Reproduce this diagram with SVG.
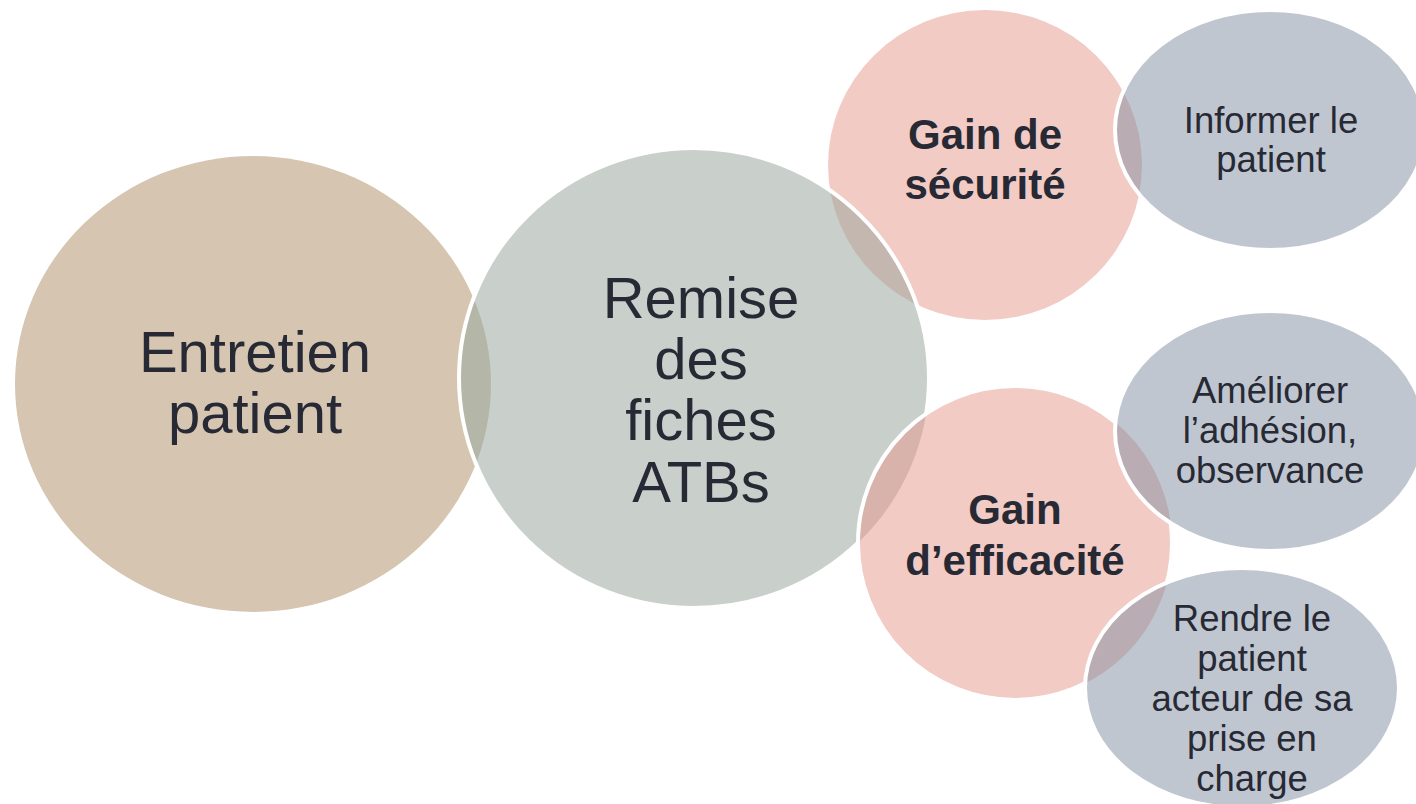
<svg xmlns="http://www.w3.org/2000/svg" width="1416" height="804" viewBox="0 0 1416 804">
<style>
.t{font-family:"Liberation Sans",Arial,sans-serif;fill:#272A34;text-anchor:middle}
.big{font-size:58px}
.bold{font-size:42px;font-weight:bold}
.small{font-size:36.5px}
.edge{fill:none;stroke:#FFFFFF;stroke-width:4}
.tan{fill:#D6C6B1}
.sage{fill:#C9D0CC}
.pink{fill:#F2CBC5}
.blue{fill:#C0C6D0}
</style>
<defs>
<clipPath id="clipE"><ellipse cx="253" cy="384" rx="238" ry="228"/></clipPath>
<clipPath id="clipGS"><ellipse cx="985" cy="165" rx="157" ry="155"/></clipPath>
<clipPath id="clipR"><ellipse cx="694" cy="378" rx="235" ry="230"/></clipPath>
<clipPath id="clipGE"><ellipse cx="1015" cy="543" rx="157" ry="157"/></clipPath>
</defs>
<rect width="1416" height="804" fill="#FFFFFF"/>
<g id="connectors"></g>

<g id="node-entretien">
<ellipse class="tan" cx="253" cy="384" rx="238" ry="228"/>
<text class="t big" x="255" y="372">Entretien</text>
<text class="t big" x="255" y="433">patient</text>
</g>

<g id="node-gain-securite">
<ellipse class="pink" cx="985" cy="165" rx="157" ry="155"/>
<text class="t bold" x="985" y="149">Gain de</text>
<text class="t bold" x="985" y="199">sécurité</text>
</g>

<g id="node-remise">
<ellipse class="sage" cx="694" cy="378" rx="235" ry="230"/>
<ellipse cx="694" cy="378" rx="235" ry="230" fill="#B4B7A7" clip-path="url(#clipE)"/>
<ellipse cx="694" cy="378" rx="235" ry="230" fill="#C3B7B0" clip-path="url(#clipGS)"/>
<ellipse class="edge" cx="694" cy="378" rx="235" ry="230"/>
<text class="t big" x="701" y="318">Remise</text>
<text class="t big" x="701" y="379">des</text>
<text class="t big" x="701" y="440">fiches</text>
<text class="t big" x="701" y="502">ATBs</text>
</g>

<g id="node-gain-efficacite">
<ellipse class="pink" cx="1015" cy="543" rx="157" ry="157"/>
<ellipse cx="1015" cy="543" rx="157" ry="157" fill="#D7B3AB" clip-path="url(#clipR)"/>
<ellipse class="edge" cx="1015" cy="543" rx="157" ry="157"/>
<text class="t bold" x="1015" y="524">Gain</text>
<text class="t bold" x="1015" y="575">d’efficacité</text>
</g>

<g id="node-informer">
<ellipse class="blue" cx="1270" cy="130" rx="155" ry="120"/>
<ellipse cx="1270" cy="130" rx="155" ry="120" fill="#B9ACB3" clip-path="url(#clipGS)"/>
<ellipse class="edge" cx="1270" cy="130" rx="155" ry="120"/>
<text class="t small" x="1271" y="133">Informer le</text>
<text class="t small" x="1271" y="172">patient</text>
</g>

<g id="node-ameliorer">
<ellipse class="blue" cx="1270" cy="431" rx="155" ry="120"/>
<ellipse cx="1270" cy="431" rx="155" ry="120" fill="#B9ACB3" clip-path="url(#clipGE)"/>
<ellipse class="edge" cx="1270" cy="431" rx="155" ry="120"/>
<text class="t small" x="1270" y="403">Améliorer</text>
<text class="t small" x="1270" y="443">l’adhésion,</text>
<text class="t small" x="1270" y="483">observance</text>
</g>

<g id="node-rendre">
<ellipse class="blue" cx="1242" cy="688" rx="157" ry="120"/>
<ellipse cx="1242" cy="688" rx="157" ry="120" fill="#B9ACB3" clip-path="url(#clipGE)"/>
<ellipse class="edge" cx="1242" cy="688" rx="157" ry="120"/>
<text class="t small" x="1252" y="631">Rendre le</text>
<text class="t small" x="1252" y="671">patient</text>
<text class="t small" x="1252" y="711">acteur de sa</text>
<text class="t small" x="1252" y="751">prise en</text>
<text class="t small" x="1252" y="791">charge</text>
</g>
</svg>
